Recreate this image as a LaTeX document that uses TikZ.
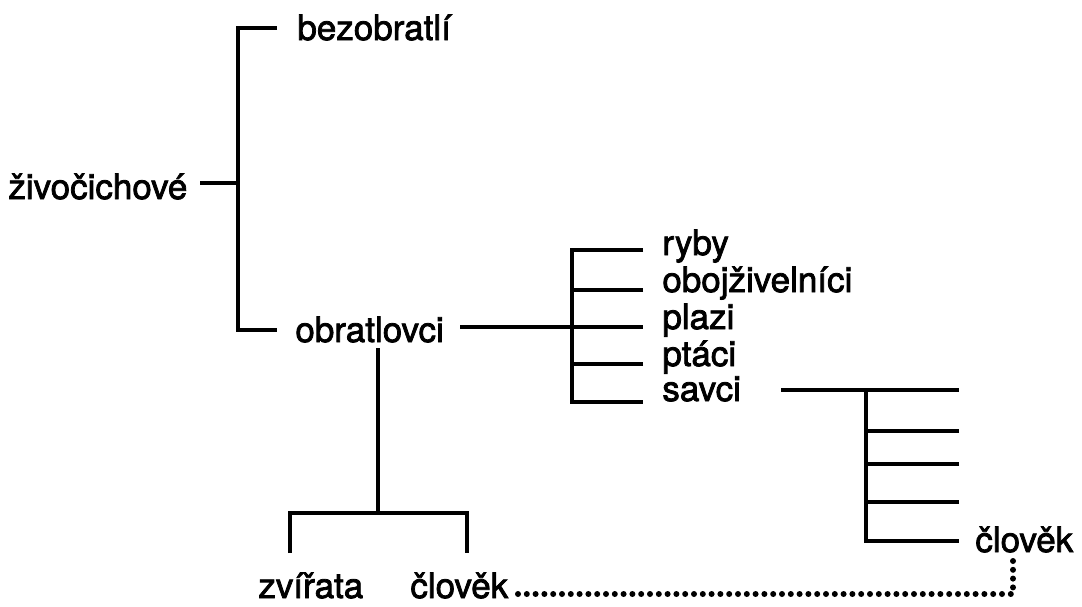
\documentclass[tikz,border=0pt]{standalone}
\usepackage{fontspec}
\setmainfont{TeX Gyre Heros}[FakeBold=2.2]
\begin{document}
\begin{tikzpicture}[x=0.5pt,y=-0.5pt,
  lbl/.style={inner sep=0pt, anchor=base west, font=\fontsize{17.5}{18}\selectfont},
  tree/.style={line width=2.2pt, line cap=butt, line join=miter},
  dots/.style={line width=3pt, line cap=round, dash pattern=on 0pt off 4.4pt}]
\useasboundingbox (0,0) rectangle (1082,606);
% labels
\node[lbl] (ziv) at (8,199) {živočichové};
\node[lbl] (bez) at (297,40) {bezobratlí};
\node[lbl] (obr) at (295,342) {obratlovci};
\node[lbl] (ryb) at (662,255) {ryby};
\node[lbl] (obo) at (662,292) {obojživelníci};
\node[lbl] (pla) at (662,329) {plazi};
\node[lbl] (pta) at (662,366) {ptáci};
\node[lbl] (sav) at (662,401) {savci};
\node[lbl] (clr) at (975,552) {člověk};
\node[lbl] (zvi) at (258,598) {zvířata};
\node[lbl] (clb) at (410,598) {člověk};
% junction coordinates
\coordinate (zivR) at (200,183);
\coordinate (jA) at (238,183);
\coordinate (bezL) at (277,28);
\coordinate (obrL) at (277,330);
\coordinate (obrR) at (460,327);
\coordinate (jB) at (572,327);
\coordinate (rybL) at (643,250);
\coordinate (oboL) at (643,290);
\coordinate (plaL) at (643,327);
\coordinate (ptaL) at (643,364);
\coordinate (savL) at (643,402);
\coordinate (savR) at (781,390);
\coordinate (jC) at (866,390);
\coordinate (m1) at (959,390);
\coordinate (m2) at (959,431);
\coordinate (m3) at (959,464);
\coordinate (m4) at (959,502);
\coordinate (clrL) at (959,541);
\coordinate (obrB) at (378,348);
\coordinate (jD) at (378,513);
\coordinate (zviT) at (290,553);
\coordinate (clbT) at (467,553);
\coordinate (clbR) at (518,594);
\coordinate (clrB) at (1013,560);
% tree lines
\draw[tree] (zivR) -- (jA);
\draw[tree] (bezL) -| (jA) |- (obrL);
\draw[tree] (obrR) -- (plaL);
\draw[tree] (rybL) -| (jB) |- (savL);
\draw[tree] (oboL) -- (oboL -| jB);
\draw[tree] (ptaL) -- (ptaL -| jB);
\draw[tree] (savR) -- (m1);
\draw[tree] (jC) |- (clrL);
\draw[tree] (m2) -- (m2 -| jC);
\draw[tree] (m3) -- (m3 -| jC);
\draw[tree] (m4) -- (m4 -| jC);
\draw[tree] (obrB) -- (jD);
\draw[tree] (zviT) |- (jD) -| (clbT);
% dotted link
\draw[dots] (clbR) -| (clrB);
\end{tikzpicture}
\end{document}
